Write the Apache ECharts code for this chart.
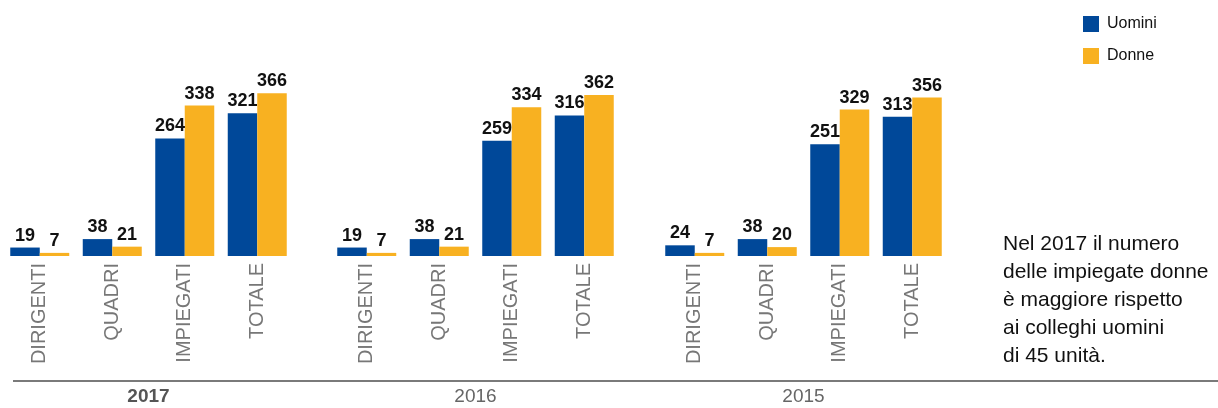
<!DOCTYPE html>
<html>
<head>
<meta charset="utf-8">
<script src="https://cdn.jsdelivr.net/npm/echarts@6/dist/echarts.min.js"></script>
<style>
    html, body { margin: 0; padding: 0; background: #fff; }
    #chart { width: 1218px; height: 408px; }
</style>
</head>
<body>
<div id="chart"></div>
<script>
    // dati
    var categorie = ['DIRIGENTI', 'QUADRI', 'IMPIEGATI', 'TOTALE'];
    var anni = ['2017', '2016', '2015'];
    var uomini2017 = [19, 38, 264, 321];
    var donne2017 = [7, 21, 338, 366];
    var uomini2016 = [19, 38, 259, 316];
    var donne2016 = [7, 21, 334, 362];
    var uomini2015 = [24, 38, 251, 313];
    var donne2015 = [7, 20, 329, 356];

    var uomini = [uomini2017, uomini2016, uomini2015];
    var donne = [donne2017, donne2016, donne2015];

    var font = "'Liberation Sans', Arial, sans-serif";
    var blu = '#004899';
    var arancio = '#f8b121';
    var gridLeft = [3.5, 330.5, 658.5];

    var grids = [], xAxes = [], yAxes = [], series = [];
    anni.forEach(function (anno, i) {
        grids.push({
            left: gridLeft[i],
            width: 290,
            top: 78,
            bottom: 152,
            containLabel: false,
            outerBoundsMode: 'none'
        });
        xAxes.push({
            type: 'category',
            gridIndex: i,
            data: categorie,
            name: anno,
            nameLocation: 'middle',
            nameGap: 131,
            nameTextStyle: {
                fontFamily: font,
                fontSize: 19,
                fontWeight: i === 0 ? 'bold' : 'normal',
                color: i === 0 ? '#555' : '#666'
            },
            axisLine: { show: false },
            axisTick: { show: false },
            axisLabel: {
                rotate: 90,
                margin: 7,
                interval: 0,
                fontFamily: font,
                fontSize: 20,
                color: '#777'
            }
        });
        yAxes.push({
            type: 'value',
            gridIndex: i,
            min: 0,
            max: 400,
            show: false,
            splitLine: { show: false }
        });
        var label = {
            show: true,
            position: 'top',
            distance: 3,
            fontFamily: font,
            fontSize: 18,
            fontWeight: 'bold',
            color: '#111'
        };
        series.push({
            name: 'Uomini',
            type: 'bar',
            xAxisIndex: i,
            yAxisIndex: i,
            data: uomini[i],
            barWidth: 29.5,
            barGap: '0%',
            itemStyle: { color: blu },
            label: label
        });
        series.push({
            name: 'Donne',
            type: 'bar',
            xAxisIndex: i,
            yAxisIndex: i,
            data: donne[i],
            barWidth: 29.5,
            barGap: '0%',
            itemStyle: { color: arancio },
            label: label
        });
    });

    var option = {
        animation: false,
        backgroundColor: '#fff',
        legend: {
            data: ['Uomini', 'Donne'],
            orient: 'vertical',
            left: 1083,
            top: 16,
            padding: 0,
            icon: 'rect',
            itemWidth: 16,
            itemHeight: 16,
            itemGap: 16,
            textStyle: {
                fontFamily: font,
                fontSize: 16,
                color: '#111',
                padding: [0, 0, 0, 3]
            }
        },
        grid: grids,
        xAxis: xAxes,
        yAxis: yAxes,
        series: series,
        graphic: [{
            type: 'line',
            shape: { x1: 13, y1: 381, x2: 1218, y2: 381 },
            style: { stroke: '#7a7a7a', lineWidth: 2 }
        }, {
            type: 'text',
            left: 1003,
            top: 230,
            style: {
                text: 'Nel 2017 il numero\ndelle impiegate donne\nè maggiore rispetto\nai colleghi uomini\ndi 45 unità.',
                font: '21px ' + font,
                lineHeight: 28,
                fill: '#111'
            }
        }]
    };

    var myChart = echarts.init(document.getElementById('chart'));
    myChart.setOption(option);
</script>
</body>
</html>
